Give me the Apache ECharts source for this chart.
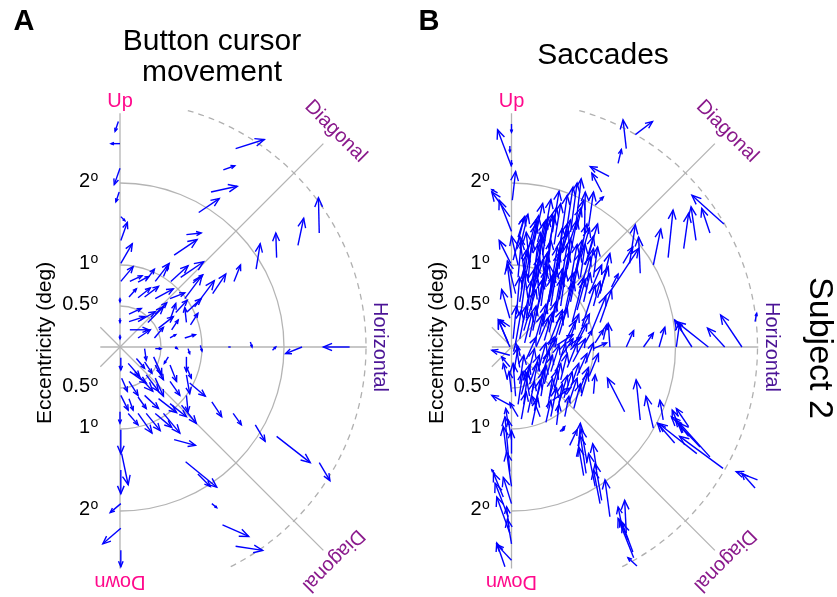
<!DOCTYPE html>
<html>
<head>
<meta charset="utf-8">
<script src="https://cdn.jsdelivr.net/npm/echarts@6/dist/echarts.min.js"></script>
<style>
  html, body { margin: 0; padding: 0; background: #ffffff; }
  #chart { width: 837px; height: 597px; }
</style>
</head>
<body>
<div id="chart"></div>
<script>
// Eccentricity rings (deg) and their labels
const ringRadii = [0.5, 1, 2];
const tickLabels = ['0.5', '1', '2'];
const outerRing = 3;

// Direction names around each half-plot
const directionNames = ['Up', 'Diagonal', 'Horizontal', 'Diagonal', 'Down'];
const directionAngles = [90, 45, 0, -45, -90];

// Button cursor movement: [tailX, tailY, headX, headY] in degrees
const cursorArrows = [
  [-0.02,2.75,-0.06,2.63],[0.00,2.48,-0.11,2.48],[0.00,2.18,-0.07,1.98],[-0.01,1.89,-0.05,1.77],
  [0.01,1.59,0.06,1.54],[0.01,1.30,0.09,1.52],[0.01,1.02,0.15,1.26],[0.66,1.12,0.94,1.31],
  [0.81,1.37,0.99,1.39],[0.96,1.64,1.21,1.81],[1.11,1.89,1.43,1.96],[1.26,2.16,1.40,2.21],
  [1.41,2.42,1.76,2.53],[2.43,1.39,2.42,1.82],[2.17,1.24,2.24,1.57],[1.91,1.09,1.90,1.39],
  [1.66,0.95,1.71,1.26],[1.39,0.80,1.47,1.00],[0.01,0.80,0.16,0.98],[0.12,0.80,0.27,0.87],
  [0.22,0.79,0.35,0.86],[0.31,0.80,0.42,0.95],[0.43,0.80,0.60,1.02],[0.53,0.86,0.59,1.00],
  [0.62,0.80,0.83,0.99],[0.74,0.85,1.02,1.04],[0.89,0.78,1.01,0.88],[0.11,0.61,0.20,0.71],
  [0.22,0.60,0.37,0.72],[0.30,0.61,0.47,0.74],[0.43,0.59,0.65,0.71],[0.79,0.59,1.00,0.87],
  [0.91,0.49,1.15,0.81],[1.13,0.65,1.29,0.89],[0.61,0.59,0.79,0.66],[0.11,0.40,0.26,0.47],
  [0.11,0.31,0.30,0.37],[0.22,0.31,0.43,0.43],[0.34,0.30,0.53,0.49],[0.43,0.40,0.57,0.54],
  [0.47,0.23,0.65,0.37],[0.61,0.33,0.68,0.53],[0.68,0.42,0.82,0.57],[0.81,0.30,0.79,0.48],
  [0.82,0.43,0.99,0.59],[0.86,0.27,0.95,0.41],[0.63,0.21,0.71,0.33],[0.42,0.11,0.53,0.24],
  [0.22,0.11,0.37,0.21],[0.12,0.21,0.35,0.21],[0.61,0.11,0.68,0.15],[0.79,0.11,0.92,0.15],
  [0.00,0.60,0.00,0.55],[0.00,0.35,0.00,0.30],[0.00,0.15,0.00,0.10],
  [1.59,0.06,1.61,0.00],[1.86,-0.04,1.90,0.00],[2.22,0.00,2.02,-0.08],[2.80,0.00,2.48,0.00],
  [1.32,0.00,1.35,0.00],[0.98,0.02,1.00,-0.05],[0.67,0.00,0.70,-0.02],
  [0.10,-0.20,0.24,-0.36],[0.12,-0.30,0.32,-0.44],[0.20,-0.14,0.30,-0.26],[0.30,-0.02,0.32,-0.16],
  [0.41,-0.12,0.51,-0.34],[0.43,-0.22,0.53,-0.40],[0.30,-0.18,0.39,-0.32],[0.59,-0.12,0.54,-0.20],
  [0.61,-0.22,0.69,-0.42],[0.81,-0.12,0.81,-0.30],[0.81,-0.24,0.87,-0.38],[0.83,-0.02,0.85,-0.08],
  [0.43,-0.02,0.50,-0.02],[0.01,-0.13,0.01,-0.28],[0.02,-0.38,0.09,-0.54],[0.11,-0.42,0.22,-0.59],
  [0.18,-0.30,0.40,-0.54],[0.32,-0.34,0.47,-0.54],[0.43,-0.38,0.53,-0.60],[0.61,-0.42,0.73,-0.59],
  [0.81,-0.34,0.85,-0.57],[0.85,-0.44,1.04,-0.60],[0.81,-0.59,0.83,-0.79],[0.01,-0.59,0.10,-0.77],
  [0.11,-0.63,0.16,-0.77],[0.22,-0.61,0.32,-0.75],[0.30,-0.59,0.47,-0.75],[0.47,-0.63,0.69,-0.80],
  [0.61,-0.69,0.81,-0.85],[0.75,-0.71,0.93,-0.93],[0.10,-0.81,0.22,-0.95],[0.22,-0.81,0.39,-1.05],
  [0.32,-0.81,0.49,-1.02],[0.43,-0.81,0.63,-0.98],[0.53,-0.81,0.73,-1.05],[0.66,-1.13,0.92,-1.20],
  [1.12,-0.67,1.24,-0.85],[1.38,-0.81,1.48,-0.95],[1.65,-0.95,1.77,-1.15],[0.00,-0.79,0.00,-0.93],
  [0.01,-1.01,0.01,-1.30],[1.91,-1.09,2.32,-1.41],[2.43,-1.41,2.56,-1.63],[0.80,-1.40,1.18,-1.71],
  [0.95,-1.55,1.10,-1.70],[1.12,-1.91,1.18,-1.96],[1.25,-2.17,1.57,-2.31],[1.41,-2.43,1.74,-2.48],
  [0.02,-1.30,0.10,-1.68],[0.01,-1.50,0.01,-1.79],[0.01,-1.91,-0.12,-2.02],[0.01,-2.21,-0.21,-2.40],
  [0.01,-2.48,0.01,-2.68]
];

// Saccades: [tailX, tailY, headX, headY] in degrees
const saccadeArrows = [
  // along the upward meridian
  [0.00,2.20,-0.17,2.65],[0.01,1.79,0.05,2.14],[-0.02,1.59,-0.24,1.89],[0.00,1.41,-0.15,1.79],
  [-0.01,1.02,-0.15,1.30],[0.02,1.06,0.16,1.59],[0.00,2.72,0.00,2.62],[-0.02,2.45,-0.02,2.38],
  [0.00,2.28,0.00,2.22],[-0.17,1.88,-0.24,1.92],[0.08,1.34,0.16,1.59],
  // scattered above the 2 deg ring
  [1.19,2.08,0.96,2.20],[1.10,1.89,0.98,2.12],[1.30,2.24,1.34,2.41],[1.40,2.42,1.36,2.77],
  [1.51,2.59,1.72,2.75],[1.02,1.73,1.12,1.83],[0.89,1.39,0.90,1.89],[0.79,1.43,0.88,1.79],
  [0.94,1.47,1.00,1.89],
  // along the upper diagonal
  [2.59,1.50,2.20,1.85],[2.42,1.39,2.32,1.69],[2.25,1.30,2.19,1.71],[2.10,1.20,2.16,1.63],
  [1.91,1.09,1.97,1.67],[1.73,1.00,1.82,1.44],[1.57,0.90,1.55,1.34],[1.44,1.02,1.51,1.49],
  [1.22,0.70,1.55,1.20],[1.08,0.65,1.20,1.14],[1.36,1.02,1.48,1.22],
  // along the horizontal meridian
  [1.20,0.00,1.18,0.29],[1.40,0.00,1.49,0.20],[1.61,0.00,1.73,0.17],[1.80,0.00,1.87,0.24],
  [2.01,0.00,2.05,0.29],[2.20,0.00,1.99,0.33],[2.40,0.00,2.01,0.31],[2.60,0.00,2.39,0.23],
  [2.81,0.00,2.55,0.39],[2.97,0.31,2.99,0.41],[1.00,-0.02,1.16,0.05],[1.12,0.09,1.16,0.27],
  [1.02,0.05,1.12,0.21],[1.22,0.73,1.30,0.89],
  // below the horizontal, outer part
  [1.38,-0.79,1.17,-0.38],[1.57,-0.89,1.52,-0.40],[1.73,-0.99,1.64,-0.60],[1.99,-1.17,1.78,-0.93],
  [2.26,-1.30,1.79,-0.93],[2.58,-1.48,2.05,-1.09],[1.85,-0.89,1.81,-0.65],[2.08,-1.05,1.96,-0.77],
  [2.16,-0.97,2.01,-0.75],[2.30,-1.22,1.95,-0.85],[2.42,-1.34,2.05,-0.93],[2.16,-1.09,2.00,-0.89],
  [3.00,-1.62,2.74,-1.52],[2.97,-1.72,2.81,-1.54],[1.00,-0.57,1.02,-0.34],
  // dense cluster above the horizontal
  [0.10,1.20,0.20,1.62],[0.18,1.10,0.30,1.55],[0.25,1.15,0.33,1.60],[0.30,1.05,0.40,1.52],
  [0.38,1.12,0.45,1.58],[0.45,1.20,0.55,1.70],[0.52,1.25,0.60,1.75],[0.60,1.30,0.68,1.85],
  [0.66,1.35,0.75,1.95],[0.72,1.40,0.80,2.00],[0.78,1.45,0.85,2.05],[0.70,1.25,0.85,1.70],
  [0.62,1.15,0.72,1.55],[0.55,1.05,0.70,1.40],[0.85,1.10,0.95,1.45],[0.90,1.00,1.00,1.35],
  [0.08,0.85,0.12,1.30],[0.12,0.70,0.18,1.18],[0.20,0.80,0.25,1.30],[0.26,0.75,0.32,1.25],
  [0.32,0.85,0.37,1.35],[0.36,0.70,0.44,1.15],[0.42,0.80,0.48,1.30],[0.48,0.72,0.56,1.22],
  [0.54,0.85,0.60,1.30],[0.60,0.75,0.68,1.25],[0.66,0.85,0.72,1.32],[0.72,0.80,0.80,1.25],
  [0.78,0.90,0.86,1.30],[0.84,0.85,0.90,1.25],[0.92,0.80,1.00,1.20],[1.00,0.85,1.05,1.22],
  [0.95,0.65,1.10,1.00],[0.15,0.95,0.10,1.35],[0.22,1.00,0.18,1.40],[0.40,1.00,0.35,1.40],
  [0.06,0.40,0.10,0.85],[0.12,0.45,0.18,0.90],[0.18,0.35,0.24,0.80],[0.24,0.45,0.30,0.90],
  [0.30,0.38,0.38,0.82],[0.36,0.50,0.42,0.95],[0.42,0.40,0.50,0.85],[0.48,0.50,0.55,0.95],
  [0.54,0.42,0.62,0.85],[0.60,0.50,0.66,0.92],[0.66,0.40,0.76,0.80],[0.72,0.55,0.80,0.95],
  [0.80,0.45,0.90,0.82],[0.88,0.55,0.96,0.90],[1.00,0.50,1.08,0.80],[0.20,0.60,0.15,0.95],
  [0.34,0.62,0.30,1.00],[0.50,0.62,0.46,1.00],
  [0.05,0.05,0.12,0.45],[0.10,0.10,0.18,0.50],[0.16,0.05,0.25,0.42],[0.22,0.12,0.30,0.50],
  [0.28,0.05,0.38,0.40],[0.34,0.15,0.42,0.52],[0.40,0.08,0.50,0.42],[0.46,0.18,0.54,0.55],
  [0.52,0.06,0.62,0.38],[0.58,0.15,0.68,0.48],[0.65,0.05,0.78,0.32],[0.72,0.12,0.82,0.40],
  [0.80,0.05,0.92,0.28],[0.55,0.02,0.75,0.15],[0.70,0.02,0.85,0.12],[0.90,0.05,0.98,0.20],
  [-0.02,0.35,-0.12,0.70],[0.00,0.60,-0.05,1.00],[0.02,0.10,0.06,0.50],[-0.02,0.00,-0.16,0.33],
  [-0.02,0.25,-0.14,0.33],[-0.04,0.05,-0.16,0.33],
  [0.14,0.30,0.28,0.95],[0.26,0.20,0.40,0.85],[0.38,0.25,0.52,0.90],[0.50,0.30,0.62,0.95],
  [0.62,0.28,0.75,0.90],[0.74,0.30,0.88,0.85],[0.86,0.25,1.02,0.75],[0.98,0.20,1.15,0.62],
  [1.08,0.30,1.22,0.70],[0.18,0.90,0.30,1.50],[0.30,0.92,0.42,1.55],[0.42,0.95,0.52,1.60],
  [0.55,0.90,0.68,1.50],[0.68,0.95,0.80,1.55],[0.80,0.95,0.92,1.50],[0.92,1.05,1.05,1.50],
  [0.10,0.55,0.20,1.15],[0.22,0.50,0.34,1.10],[0.34,0.55,0.44,1.15],[0.46,0.55,0.58,1.15],
  [0.58,0.58,0.70,1.15],[0.70,0.62,0.84,1.15],[0.82,0.65,0.96,1.10],[1.05,0.60,1.18,0.98],
  [0.28,1.30,0.38,1.75],[0.40,1.35,0.48,1.80],[0.50,1.40,0.58,1.90],[0.35,1.20,0.50,1.62],
  [0.05,0.65,-0.05,1.05],[0.08,1.00,0.00,1.35],[0.15,0.20,0.30,0.70],[0.45,0.02,0.62,0.45],
  [0.75,0.00,0.95,0.40],[0.30,0.00,0.45,0.35],[0.58,0.95,0.62,1.45],[0.25,0.62,0.38,1.05],
  // dense cluster below the horizontal
  [0.05,-0.60,0.02,-0.20],[0.10,-0.45,0.15,-0.10],[0.15,-0.70,0.20,-0.30],[0.20,-0.35,0.28,-0.02],
  [0.25,-0.55,0.32,-0.18],[0.28,-0.78,0.35,-0.40],[0.32,-0.30,0.42,0.05],[0.36,-0.60,0.42,-0.22],
  [0.40,-0.45,0.50,-0.10],[0.44,-0.75,0.50,-0.38],[0.48,-0.30,0.58,0.02],[0.52,-0.55,0.60,-0.20],
  [0.56,-0.80,0.62,-0.45],[0.60,-0.40,0.68,-0.08],[0.64,-0.62,0.74,-0.30],[0.68,-0.25,0.80,0.05],
  [0.72,-0.50,0.82,-0.20],[0.76,-0.75,0.84,-0.45],[0.80,-0.35,0.92,-0.08],[0.85,-0.60,0.93,-0.32],
  [0.90,-0.20,1.00,0.05],[0.18,-0.15,0.30,0.12],[0.40,-0.15,0.55,0.10],[0.60,-0.12,0.75,0.10],
  [0.25,-0.95,0.32,-0.62],[0.42,-0.92,0.48,-0.65],[0.12,-0.88,0.18,-0.55],[0.35,-0.85,0.25,-0.60],
  [0.10,-0.25,0.05,0.05],[0.22,-0.60,0.17,-0.30],[0.50,-0.65,0.72,-0.50],[0.08,-0.85,-0.02,-0.68],
  [0.03,-0.30,0.08,0.00],[0.55,-0.95,0.58,-0.70],[0.65,-0.85,0.70,-0.60],[0.65,-0.99,0.62,-1.02],
  [0.08,-0.70,0.14,-0.30],[0.20,-0.80,0.28,-0.42],[0.30,-0.65,0.40,-0.28],[0.46,-0.62,0.56,-0.28],
  [0.58,-0.68,0.68,-0.35],[0.70,-0.68,0.80,-0.38],[0.82,-0.55,0.94,-0.25],[0.38,-0.20,0.52,0.12],
  [0.55,-0.28,0.66,0.05],[0.22,-0.45,0.34,-0.10],[0.12,-0.58,0.22,-0.22],[0.75,-0.18,0.90,0.10],
  [0.95,-0.35,1.06,-0.08],[0.48,-0.85,0.55,-0.50],[0.36,-0.40,0.46,-0.05],
  [-0.02,-0.10,-0.24,-0.04],[-0.02,-0.24,-0.12,-0.12],[-0.02,-0.71,-0.24,-0.59],
  [-0.05,-0.40,-0.10,-0.20],[0.00,-0.55,-0.03,-0.30],
  // along the downward meridian
  [-0.02,-1.52,-0.08,-0.85],[-0.06,-1.30,-0.10,-0.97],[0.00,-1.13,-0.04,-0.89],[0.00,-1.70,-0.06,-1.28],
  [0.00,-1.91,-0.10,-1.59],[-0.10,-1.83,-0.22,-1.54],[-0.04,-2.07,-0.20,-1.66],[-0.02,-2.27,-0.18,-1.83],
  [0.00,-2.60,-0.18,-2.41],[-0.08,-2.68,-0.18,-2.39],[0.00,-1.30,0.00,-1.02],[-0.03,-2.20,-0.06,-1.95],
  [-0.04,-0.95,-0.07,-0.75],[-0.20,-1.55,-0.24,-1.50],[0.00,-2.40,-0.05,-2.10],
  // lower middle column
  [0.81,-1.34,0.84,-0.93],[0.71,-1.20,0.80,-1.01],[0.91,-1.54,0.84,-1.09],[1.02,-1.70,0.94,-1.30],
  [1.04,-1.50,0.99,-1.18],[1.10,-1.87,1.02,-1.42],[1.20,-2.07,1.14,-1.62],[1.40,-2.27,1.38,-1.87],
  [1.49,-2.57,1.30,-2.09],[1.42,-2.35,1.32,-2.11],[1.53,-2.67,1.42,-2.57],[0.59,-1.03,0.65,-0.97],
  [1.08,-1.91,1.00,-1.50],[0.88,-1.57,0.82,-1.22],[0.92,-1.40,0.85,-1.00],[1.48,-2.50,1.35,-2.15],
  [1.35,-2.20,1.30,-1.95]
];

const FONT = '"Liberation Sans", Arial, Helvetica, sans-serif';
const ARROW = '#0000ff';
const GRID_GREY = '#b4b4b4';
const DIR_COLORS = ['#ff0a8c', '#8a1a8c', '#4b1496', '#8a1a8c', '#ff0a8c'];
const LABEL_RADIUS = [3.0, 3.72, 3.17, 3.68, 2.86];

// Quiver arrow: shaft plus an open head scaled with the arrow length
function renderArrow(params, api) {
  const p0 = api.coord([api.value(0), api.value(1)]);
  const p1 = api.coord([api.value(2), api.value(3)]);
  const dx = p1[0] - p0[0], dy = p1[1] - p0[1];
  const len = Math.hypot(dx, dy);
  const style = { stroke: ARROW, lineWidth: 1.4, fill: null };
  const children = [{ type: 'line', shape: { x1: p0[0], y1: p0[1], x2: p1[0], y2: p1[1] }, style }];
  if (len > 2.5) {
    const h = Math.min(10, Math.max(2.5, len * 0.36));
    const ang = Math.atan2(dy, dx);
    const a = 0.4;
    children.push({
      type: 'polyline',
      shape: { points: [
        [p1[0] - h * Math.cos(ang - a), p1[1] - h * Math.sin(ang - a)],
        [p1[0], p1[1]],
        [p1[0] - h * Math.cos(ang + a), p1[1] - h * Math.sin(ang + a)]
      ] },
      style
    });
  }
  return { type: 'group', children };
}

// Polar frame: eccentricity rings, meridians, tick and direction labels
function renderFrame(params, api) {
  const c = api.coord([0, 0]);
  const unit = api.size([1, 1])[0];
  const line = { stroke: GRID_GREY, lineWidth: 1.3, fill: null };
  const children = [];
  ringRadii.forEach(r => {
    children.push({ type: 'arc', shape: { cx: c[0], cy: c[1], r: r * unit, startAngle: -Math.PI / 2, endAngle: Math.PI / 2, clockwise: true }, style: line });
  });
  children.push({ type: 'arc', shape: { cx: c[0], cy: c[1], r: outerRing * unit, startAngle: -74 * Math.PI / 180, endAngle: 64 * Math.PI / 180, clockwise: true },
    style: { stroke: '#b0b0b0', lineWidth: 1.3, fill: null, lineDash: [6, 5] } });
  // meridians
  const seg = (a, b) => {
    const p = api.coord(a), q = api.coord(b);
    children.push({ type: 'line', shape: { x1: p[0], y1: p[1], x2: q[0], y2: q[1] }, style: line });
  };
  seg([0, -2.7], [0, 2.85]);
  seg([-0.24, 0], [3.01, 0]);
  seg([-0.24, 0.24], [2.48, -2.48]);
  seg([-0.24, -0.24], [2.48, 2.48]);
  // ring labels on both sides of the centre
  ringRadii.forEach((r, i) => {
    [1, -1].forEach(s => {
      const p = api.coord([0, s * r]);
      const y = p[1] - 1.5;
      children.push({ type: 'text', x: c[0] - 30, y: y,
        style: { text: tickLabels[i], font: '20px ' + FONT, fill: '#000', align: 'right', verticalAlign: 'middle', textAlign: 'right', textVerticalAlign: 'middle' } });
      children.push({ type: 'text', x: c[0] - 29.5, y: y - 4,
        style: { text: 'o', font: '14px ' + FONT, fill: '#000', align: 'left', verticalAlign: 'middle', textAlign: 'left', textVerticalAlign: 'middle' } });
    });
  });
  // direction names
  directionNames.forEach((name, i) => {
    const t = directionAngles[i] * Math.PI / 180;
    const p = api.coord([LABEL_RADIUS[i] * Math.cos(t), LABEL_RADIUS[i] * Math.sin(t)]);
    children.push({ type: 'text', x: p[0], y: p[1], rotation: t - Math.PI / 2,
      style: { text: name, font: '20px ' + FONT, fill: DIR_COLORS[i], align: 'center', verticalAlign: 'middle', textAlign: 'center', textVerticalAlign: 'middle' } });
  });
  // axis title
  const e = api.coord([-0.91, 0.05]);
  children.push({ type: 'text', x: e[0], y: e[1], rotation: Math.PI / 2,
    style: { text: 'Eccentricity (deg)', font: '21px ' + FONT, fill: '#000', align: 'center', verticalAlign: 'middle', textAlign: 'center', textVerticalAlign: 'middle' } });
  return { type: 'group', children };
}

const PX_PER_DEG = 82;
const X_RANGE = [-1, 3.5];
const Y_RANGE = [-3, 3];
const centres = [[120, 347], [511.5, 347]];

const grids = centres.map(cn => ({
  left: cn[0] - (0 - X_RANGE[0]) * PX_PER_DEG,
  top: cn[1] - Y_RANGE[1] * PX_PER_DEG,
  width: (X_RANGE[1] - X_RANGE[0]) * PX_PER_DEG,
  height: (Y_RANGE[1] - Y_RANGE[0]) * PX_PER_DEG
}));
const hiddenAxis = { type: 'value', show: false, splitLine: { show: false } };

const chart = echarts.init(document.getElementById('chart'), null, { renderer: 'canvas' });
chart.setOption({
  backgroundColor: '#ffffff',
  animation: false,
  grid: grids,
  xAxis: grids.map((g, i) => Object.assign({ gridIndex: i, min: X_RANGE[0], max: X_RANGE[1] }, hiddenAxis)),
  yAxis: grids.map((g, i) => Object.assign({ gridIndex: i, min: Y_RANGE[0], max: Y_RANGE[1] }, hiddenAxis)),
  series: [
    { type: 'custom', xAxisIndex: 0, yAxisIndex: 0, clip: false, silent: true, z: 1, renderItem: renderFrame, data: [[0, 0]] },
    { type: 'custom', xAxisIndex: 1, yAxisIndex: 1, clip: false, silent: true, z: 1, renderItem: renderFrame, data: [[0, 0]] },
    { type: 'custom', xAxisIndex: 0, yAxisIndex: 0, clip: false, silent: true, z: 2, renderItem: renderArrow,
      encode: { x: [0, 2], y: [1, 3] }, data: cursorArrows },
    { type: 'custom', xAxisIndex: 1, yAxisIndex: 1, clip: false, silent: true, z: 2, renderItem: renderArrow,
      encode: { x: [0, 2], y: [1, 3] }, data: saccadeArrows }
  ],
  graphic: [
    { type: 'text', x: 24, y: 22, style: { text: 'A', font: 'bold 29px ' + FONT, fill: '#000', align: 'center', verticalAlign: 'middle', textAlign: 'center', textVerticalAlign: 'middle' } },
    { type: 'text', x: 429, y: 22, style: { text: 'B', font: 'bold 29px ' + FONT, fill: '#000', align: 'center', verticalAlign: 'middle', textAlign: 'center', textVerticalAlign: 'middle' } },
    { type: 'text', x: 212, y: 42, style: { text: 'Button cursor', font: '30px ' + FONT, fill: '#000', align: 'center', verticalAlign: 'middle', textAlign: 'center', textVerticalAlign: 'middle' } },
    { type: 'text', x: 212, y: 73, style: { text: 'movement', font: '30px ' + FONT, fill: '#000', align: 'center', verticalAlign: 'middle', textAlign: 'center', textVerticalAlign: 'middle' } },
    { type: 'text', x: 603, y: 56, style: { text: 'Saccades', font: '30px ' + FONT, fill: '#000', align: 'center', verticalAlign: 'middle', textAlign: 'center', textVerticalAlign: 'middle' } },
    { type: 'text', x: 819, y: 348, rotation: -Math.PI / 2, style: { text: 'Subject 2', font: '34px ' + FONT, fill: '#000', align: 'center', verticalAlign: 'middle', textAlign: 'center', textVerticalAlign: 'middle' } }
  ]
});
</script>
</body>
</html>
